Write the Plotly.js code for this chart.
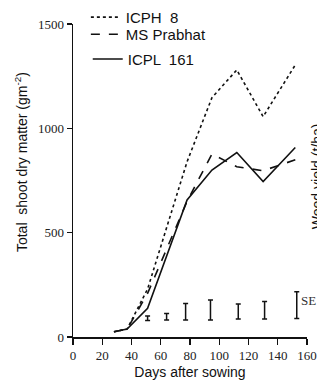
<!DOCTYPE html>
<html>
<head>
<meta charset="utf-8">
<script src="https://cdn.plot.ly/plotly-3.0.1.min.js"></script>
<style>html,body{margin:0;padding:0;background:#fff;}#chart{width:317px;height:380px;}</style>
</head>
<body>
<div id="chart"></div>
<script>
// Days after sowing for the growth curves
const days = [28, 37, 51, 78, 95, 112, 130, 152];
const icph8 = [25, 38, 230, 840, 1147, 1280, 1056, 1304];
const msPrabhat = [25, 38, 209, 650, 877, 816, 797, 849];
const icpl161 = [25, 38, 138, 657, 800, 884, 745, 908];
// SE bars
const seDays = [51, 64, 77, 94, 113, 131, 153];
const seCentre = [90, 97, 121, 129, 122, 128, 153];
const seHalf = [11, 16, 40, 48, 36, 42, 64];
const xTicks = [0, 20, 40, 60, 80, 100, 120, 140, 160];
const yTicks = [0, 500, 1000, 1500];

const lineW = 1.6;
const traces = [
  {x: days, y: icph8, name: 'ICPH  8', mode: 'lines', legend: 'legend',
   line: {color: '#111', width: lineW, dash: 'dot'}},
  {x: days, y: msPrabhat, name: 'MS Prabhat', mode: 'lines', legend: 'legend2',
   line: {color: '#111', width: lineW, dash: 'dash'}},
  {x: days, y: icpl161, name: 'ICPL  161', mode: 'lines', legend: 'legend3',
   line: {color: '#111', width: lineW}},
  {x: seDays, y: seCentre, mode: 'markers', showlegend: false, hoverinfo: 'skip',
   marker: {size: 1, color: 'rgba(0,0,0,0)'},
   error_y: {type: 'data', array: seHalf, visible: true, color: '#111', thickness: 1.5, width: 2.5}}
];

const legFont = {family: 'Liberation Sans, Arial, sans-serif', size: 15, color: '#111'};
const leg = (x, y) => ({x: x, y: y, xanchor: 'left', yanchor: 'top', bgcolor: 'rgba(0,0,0,0)', font: legFont});
const layout = {
  width: 317, height: 380,
  margin: {l: 73, r: 10, t: 24, b: 43, autoexpand: false},
  paper_bgcolor: '#fff', plot_bgcolor: '#fff',
  showlegend: true,
  legend: leg(0.055, 1.074),
  legend2: leg(0.055, 1.019),
  legend3: leg(0.063, 0.94),
  xaxis: {range: [0, 160], tickvals: xTicks, ticktext: xTicks.map(String),
    showgrid: false, zeroline: false, showline: true, linecolor: '#111', linewidth: 1.5,
    ticks: 'outside', ticklen: 6, tickwidth: 1.3, tickcolor: '#111',
    tickfont: {family: 'Liberation Serif, Times New Roman, serif', size: 13, color: '#222'},
    title: {text: 'Days after sowing', standoff: 6,
      font: {family: 'Liberation Sans, Arial, sans-serif', size: 14, color: '#111'}}},
  yaxis: {range: [0, 1500], tickvals: yTicks, ticktext: yTicks.map(String),
    showgrid: false, zeroline: false, showline: true, linecolor: '#111', linewidth: 1.5,
    ticks: 'outside', ticklen: 5, tickwidth: 1.3, tickcolor: '#111',
    tickfont: {family: 'Liberation Serif, Times New Roman, serif', size: 13, color: '#222'}},
  annotations: [
    {xref: 'paper', yref: 'paper', x: -0.225, y: 0.56, xanchor: 'center', yanchor: 'middle',
     text: 'Total  shoot dry matter (gm<sup>-2</sup>)', textangle: -90, showarrow: false,
     font: {family: 'Liberation Sans, Arial, sans-serif', size: 14, color: '#111'}},
    {xref: 'x', yref: 'y', x: 154.5, y: 175, xanchor: 'left', yanchor: 'middle',
     text: 'SE', showarrow: false,
     font: {family: 'Liberation Serif, Times New Roman, serif', size: 13, color: '#333'}},
    {xref: 'paper', yref: 'paper', x: 1.04, y: 0.515, xanchor: 'center', yanchor: 'middle',
     text: 'Weed yield (t/ha)', textangle: -90, showarrow: false,
     font: {family: 'Liberation Sans, Arial, sans-serif', size: 14, color: '#111'}}
  ]
};

Plotly.newPlot('chart', traces, layout, {displayModeBar: false, staticPlot: true});
</script>
</body>
</html>
